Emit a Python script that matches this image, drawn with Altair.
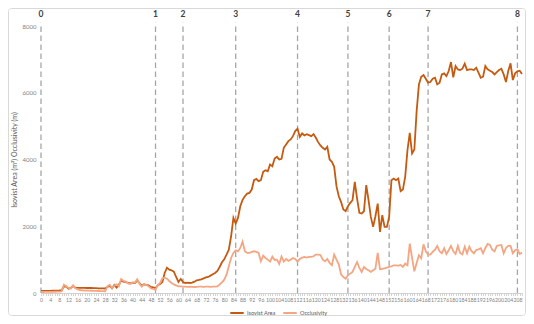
import altair as alt
import pandas as pd

# ---------------- data ----------------
x_index = list(range(211))

isovist_area = [
    60, 62, 63, 65, 66, 68, 70, 72, 75, 80,
    200, 190, 130, 150, 210, 160, 155, 155, 155, 155,
    150, 150, 150, 145, 145, 140, 140, 140, 135, 180,
    210, 140, 240, 160, 250, 370, 340, 330, 300, 290,
    310, 300, 370, 300, 220, 260, 240, 230, 180, 170,
    150, 230, 270, 330, 600, 760, 700, 680, 640, 480,
    330, 420, 330, 300, 310, 300, 310, 340, 380, 390,
    410, 440, 470, 480, 520, 560, 600, 660, 780, 920,
    1010, 1150, 1300, 1700, 2250, 2080, 2250, 2600, 2790, 2900,
    2980, 3000, 3100, 3380, 3420, 3350, 3380, 3630, 3680, 3650,
    3850, 3800, 4030, 4080, 4000, 4020, 4350, 4450, 4550, 4600,
    4700, 4850, 4920, 4680, 4780, 4720, 4760, 4730, 4700, 4760,
    4650, 4520, 4420, 4350, 4300, 4380, 4000, 3930, 3780, 3200,
    2900, 2730, 2500, 2450, 2600, 2700, 2780, 3330, 2830, 2400,
    2380, 2450, 3230, 2780, 2280, 1980, 2300, 2680, 1830, 2330,
    1980, 1980, 2280, 3380, 3430, 3380, 3430, 3050, 3100, 3480,
    4280, 4800, 4180, 4300, 5450, 6250, 6480, 6530, 6420, 6300,
    6320, 6420, 6450, 6250, 6300, 6550, 6580, 6500, 6650, 6920,
    6460, 6800, 6700, 6680, 6720, 6870, 6680, 6700, 6700, 6680,
    6750, 6600, 6450, 6480, 6800, 6700, 6660, 6620, 6550, 6620,
    6680, 6720, 6550, 6320, 6650, 6880, 6380, 6580, 6640, 6660,
    6560,
]

occlusivity = [
    30, 30, 32, 33, 35, 36, 38, 40, 42, 45,
    250, 200, 150, 130, 230, 140, 110, 90, 80, 75,
    72, 70, 68, 65, 62, 60, 58, 55, 52, 200,
    250, 150, 220, 260, 200, 420, 360, 340, 290, 270,
    320, 310, 410, 280, 190, 260, 240, 200, 140, 120,
    100, 240, 300, 440, 460, 430, 360, 300, 260, 230,
    200, 200, 190, 190, 185, 190, 185, 180, 185, 190,
    190, 185, 190, 190, 185, 190, 190, 200, 250, 320,
    400, 550, 800, 1050, 1200, 1280, 1250, 1350, 1540, 1250,
    1200, 1200, 1230, 1250, 1230, 1200, 950, 1120, 1050, 1000,
    940, 1090, 990, 1000, 870, 1090, 940, 1020, 960, 1000,
    1050, 1020, 940, 1020, 1060, 1080, 1060, 1080, 1080, 1100,
    1150, 1150, 1140, 1000, 950, 1020, 900, 830, 1150, 1000,
    860, 560, 480, 430, 530, 580, 630, 780, 930, 750,
    630, 780, 720, 680, 630, 680, 730, 1200, 710, 720,
    740, 760, 780, 800, 830, 830, 820, 840, 780, 880,
    830, 1480, 1050, 650, 900, 1130, 1040, 1460, 1250, 1150,
    1150, 1230, 1300, 1410, 1250, 1190, 1340, 1170, 1280, 1410,
    1250, 1170, 1410, 1200, 1160, 1390, 1190, 1390, 1250, 1190,
    1290, 1310, 1340, 1190, 1350, 1470, 1440, 1300, 1250, 1410,
    1430, 1440, 1190, 1350, 1410, 1410, 1190, 1280, 1310, 1170,
    1210,
]

series_names = ["Isovist Area", "Occlusivity"]
series_colors = ["#C55A11", "#F4A582"]

marker_positions = [0, 50, 62, 85, 112, 134, 152, 169, 208]
marker_labels = ["0", "1", "2", "3", "4", "5", "6", "7", "8"]

y_ticks = list(range(0, 8001, 1000))
x_ticks = list(range(0, 211))
x_label_step = 4
y_title = "Isovist Area  (m²)  Occlusivity  (m)"

FONT = "Lato"

# ---------------- tables ----------------
lines_df = pd.DataFrame({
    "idx": x_index + x_index,
    "value": isovist_area + occlusivity,
    "series": [series_names[0]] * len(x_index) + [series_names[1]] * len(x_index),
})
markers_df = pd.DataFrame({"pos": marker_positions, "lab": marker_labels})

x_scale = alt.Scale(domain=[0, 210], nice=False, zero=False)
y_scale = alt.Scale(domain=[0, 8000], nice=False)

x_axis = alt.Axis(
    values=x_ticks, title=None, grid=False, format="d",
    labelExpr=f"datum.value % {x_label_step} == 0 ? datum.label : ''",
    labelOverlap=False, labelBound=False, labelFlush=False,
    labelFontSize=5.2, labelColor="#7F7F7F", labelFont=FONT,
    tickSize=2.5, tickColor="#C8C8C8", tickWidth=0.8,
    domainColor="#D0D0D0", labelPadding=1.5,
)

lines = alt.Chart(lines_df).mark_line(strokeWidth=1.8).encode(
    x=alt.X("idx:Q", scale=x_scale, axis=x_axis),
    y=alt.Y("value:Q", scale=y_scale, axis=alt.Axis(
        values=y_ticks, title=y_title, titleFontSize=7, titleFont=FONT, format="d",
        titleFontWeight="normal", titleColor="#595959", titlePadding=5,
        labelFontSize=6, labelColor="#7F7F7F", labelFont=FONT,
        ticks=False, domain=False, gridColor="#E3E3E3", labelPadding=5,
    )),
    color=alt.Color("series:N", scale=alt.Scale(domain=series_names, range=series_colors),
                    sort=series_names,
                    legend=alt.Legend(title=None, orient="none", direction="horizontal",
                                      legendX=188, legendY=279,
                                      symbolType="stroke", symbolSize=180,
                                      symbolStrokeWidth=2, labelFontSize=5.6,
                                      labelFont=FONT, labelColor="#595959",
                                      labelOffset=2, columnPadding=3)),
)

rules = alt.Chart(markers_df).mark_rule(
    color="#A6A6A6", strokeWidth=1.3, strokeDash=[5.5, 3.5]
).encode(
    x=alt.X("pos:Q", scale=x_scale, axis=x_axis),
    y=alt.YDatum(0),
    y2=alt.Y2Datum(8100),
)

labels = alt.Chart(markers_df).mark_text(
    fontSize=8.5, fontWeight="bold", color="#404040", baseline="middle", font=FONT
).encode(
    x=alt.X("pos:Q", scale=x_scale, axis=x_axis),
    y=alt.value(-12.5),
    text="lab:N",
)

frame = alt.Chart(pd.DataFrame({"f": [0]})).mark_rect(
    fill="white", fillOpacity=0, stroke="#D9D9D9", strokeWidth=1, cornerRadius=3
).encode(
    x=alt.value(-32.5), x2=alt.value(484.5),
    y=alt.value(-17.5), y2=alt.value(289.5),
)

chart = alt.layer(rules, lines, labels, frame).properties(
    width=481, height=267,
    autosize=alt.AutoSizeParams(type="none"),
    padding={"left": 33, "top": 18, "right": 4, "bottom": 23},
    background="white",
).configure_view(stroke=None)

chart.save("out.html", embed_options={"renderer": "svg", "actions": False})
